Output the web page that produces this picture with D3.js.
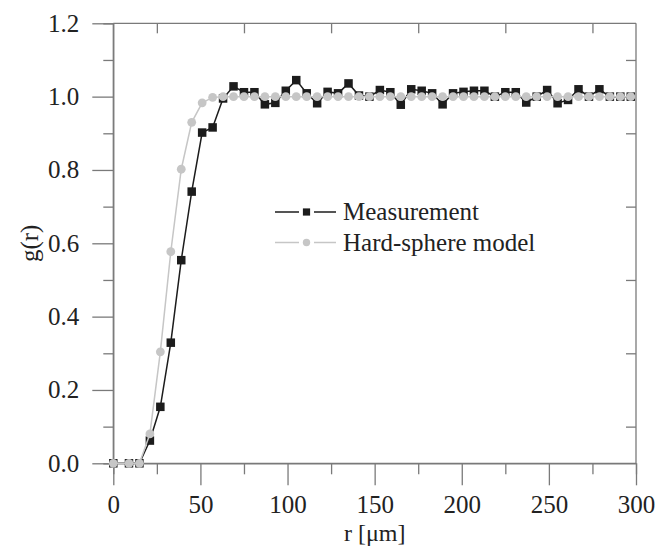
<!DOCTYPE html>
<html>
<head>
<meta charset="utf-8">
<script src="https://cdn.jsdelivr.net/npm/d3@7"></script>
<style>
  html, body { margin: 0; padding: 0; background: #ffffff; }
  svg { display: block; }
  svg text { font-family: "Liberation Serif", "Times New Roman", "DejaVu Serif", serif !important; fill: #222; }
</style>
</head>
<body>
<svg id="chart" width="672" height="547"></svg>
<script>
// ---- data ----
const rValues = [0, 9, 15, 21, 27, 33, 39, 45, 51, 57, 63, 69, 75, 81, 87, 93, 99, 105, 111, 117,
  123, 129, 135, 141, 147, 153, 159, 165, 171, 177, 183, 189, 195, 201, 207, 213, 219, 225, 231, 237,
  243, 249, 255, 261, 267, 273, 279, 285, 291, 297];
const measurement = [0, 0, 0, 0.062, 0.154, 0.329, 0.554, 0.741, 0.902, 0.916, 0.995, 1.028, 1.012, 1.012, 0.979, 0.983, 1.016, 1.045, 1.009, 0.982,
  1.013, 1.009, 1.036, 1.003, 1.0, 1.018, 1.012, 0.978, 1.02, 1.016, 1.009, 0.979, 1.009, 1.013, 1.016, 1.016, 1.0, 1.012, 1.012, 0.984,
  1.0, 1.018, 0.982, 0.991, 1.02, 1.0, 1.02, 1.0, 1.0, 1.0];
const hardSphere = [0, 0, 0, 0.08, 0.304, 0.577, 0.802, 0.930, 0.983, 0.998, 1.0, 1.0, 1.0, 1.0, 1.0, 1.0, 1.0, 1.0, 1.0, 1.0,
  1.0, 1.0, 1.0, 1.0, 1.0, 1.0, 1.0, 1.0, 1.0, 1.0, 1.0, 1.0, 1.0, 1.0, 1.0, 1.0, 1.0, 1.0, 1.0, 1.0,
  1.0, 1.0, 1.0, 1.0, 1.0, 1.0, 1.0, 1.0, 1.0, 1.0];
const xTicks = [0, 50, 100, 150, 200, 250, 300];
const xMinorTicks = [25, 75, 125, 175, 225, 275];
const yTicks = [0.0, 0.2, 0.4, 0.6, 0.8, 1.0, 1.2];
const yMinorTicks = [0.1, 0.3, 0.5, 0.7, 0.9, 1.1];
const seriesNames = ["Measurement", "Hard-sphere model"];
const xLabel = "r [\u03bcm]";
const yLabel = "g(r)";

// ---- layout ----
const svg = d3.select("#chart");
const padL = 113.3, padR = 636, padT = 23.3, padB = 463.3;
const x = d3.scaleLinear().domain([0, 300]).range([padL, padR]);
const y = d3.scaleLinear().domain([0, 1.2]).range([padB, padT]);
const axisColor = "#7a7a7a";
const fontSize = 25;
const serif = "'Liberation Serif', 'Times New Roman', serif";

// axes
const gx = svg.append("g").attr("transform", `translate(0,${padB})`)
  .call(d3.axisBottom(x).tickValues(xTicks).tickSize(22).tickPadding(10).tickFormat(d3.format("d")));
const gxm = svg.append("g").attr("transform", `translate(0,${padB})`)
  .call(d3.axisBottom(x).tickValues(xMinorTicks).tickSize(11).tickFormat(""));
const gy = svg.append("g").attr("transform", `translate(${padL},0)`)
  .call(d3.axisLeft(y).tickValues(yTicks).tickSize(21).tickPadding(13).tickFormat(d3.format(".1f")));
const gym = svg.append("g").attr("transform", `translate(${padL},0)`)
  .call(d3.axisLeft(y).tickValues(yMinorTicks).tickSize(10).tickFormat(""));
const gt = svg.append("g").attr("transform", `translate(0,${padT})`)
  .call(d3.axisTop(x).tickValues(xMinorTicks).tickSize(-10).tickFormat(""));
const gr = svg.append("g").attr("transform", `translate(${padR},0)`)
  .call(d3.axisRight(y).tickValues(yMinorTicks).tickSize(-10).tickFormat(""));

[gx, gxm, gy, gym, gt, gr].forEach(g => {
  g.attr("font-family", serif);
  g.select(".domain").attr("stroke", axisColor).attr("stroke-width", 1.3);
  g.selectAll(".tick line").attr("stroke", axisColor).attr("stroke-width", 1.3);
  g.selectAll(".tick text").attr("font-family", serif)
    .attr("font-size", fontSize).attr("fill", "#222");
});
gx.select(".domain").attr("d", `M${padL},0H${padR}`);
gy.select(".domain").attr("d", `M0,${padB}V${padT}`);
gt.select(".domain").attr("d", `M${padL},0H${padR}`);
gr.select(".domain").attr("d", `M0,${padB}V${padT}`);

// axis titles
svg.append("text").attr("x", x(150)).attr("y", 541).attr("font-family", serif)
  .attr("text-anchor", "middle").attr("font-size", 24).text(xLabel);
svg.append("text").attr("transform", `translate(38,${y(0.6)}) rotate(-90)`).attr("font-family", serif)
  .attr("text-anchor", "middle").attr("font-size", fontSize).text(yLabel);

// data
const pts = rValues.map((r, i) => ({ r, m: measurement[i], h: hardSphere[i] }));
const lineM = d3.line().x(d => x(d.r)).y(d => y(d.m));
const lineH = d3.line().x(d => x(d.r)).y(d => y(d.h));
const black = "#1c1c1c", grey = "#c6c6c6";
const sq = 8.5, cr = 4.4;

svg.append("path").datum(pts).attr("d", lineM).attr("fill", "none")
  .attr("stroke", black).attr("stroke-width", 1.5);
svg.append("g").selectAll("rect").data(pts).join("rect")
  .attr("x", d => x(d.r) - sq / 2).attr("y", d => y(d.m) - sq / 2)
  .attr("width", sq).attr("height", sq).attr("fill", black);

svg.append("path").datum(pts).attr("d", lineH).attr("fill", "none")
  .attr("stroke", grey).attr("stroke-width", 1.5);
svg.append("g").selectAll("circle").data(pts).join("circle")
  .attr("cx", d => x(d.r)).attr("cy", d => y(d.h)).attr("r", cr).attr("fill", grey);

// legend
const legend = svg.append("g");
const legRows = [
  { name: seriesNames[0], color: black, shape: "square", yy: 212 },
  { name: seriesNames[1], color: grey, shape: "circle", yy: 242.5 }
];
legRows.forEach(row => {
  legend.append("line").attr("x1", 275).attr("x2", 299).attr("y1", row.yy).attr("y2", row.yy)
    .attr("stroke", row.color).attr("stroke-width", 1.5);
  legend.append("line").attr("x1", 314).attr("x2", 336).attr("y1", row.yy).attr("y2", row.yy)
    .attr("stroke", row.color).attr("stroke-width", 1.5);
  if (row.shape === "square") {
    legend.append("rect").attr("x", 306.5 - 3.6).attr("y", row.yy - 3.6).attr("width", 7.2).attr("height", 7.2)
      .attr("fill", row.color);
  } else {
    legend.append("circle").attr("cx", 306.5).attr("cy", row.yy).attr("r", 3.7).attr("fill", row.color);
  }
  legend.append("text").attr("x", 343).attr("y", row.yy + 8).attr("font-family", serif)
    .attr("font-size", fontSize).text(row.name);
});
</script>
</body>
</html>
